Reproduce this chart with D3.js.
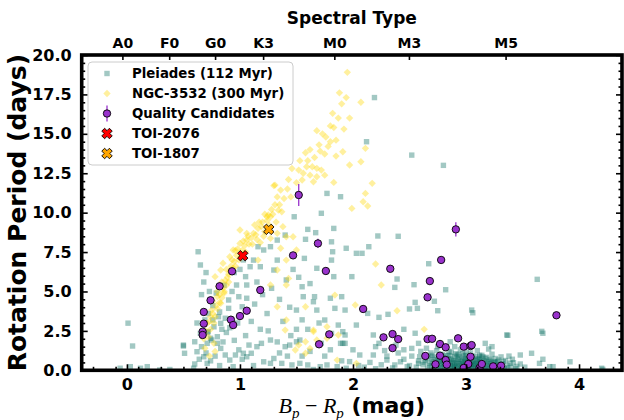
<!DOCTYPE html>
<html>
<head>
<meta charset="utf-8">
<script src="https://cdn.jsdelivr.net/npm/d3@7"></script>
<style>
  body { margin: 0; background: #fff; }
  text { font-family: "DejaVu Sans", sans-serif; font-weight: bold; }
</style>
</head>
<body>
<div id="chart"></div>
<script>
// Pleiades (112 Myr): [Bp-Rp, period]
const pleiades = [
  [0.01,2.99],[-0.06,0.13],[0.03,0.23],[0.12,0.13],[0.18,0.23],[0.29,0.02],[0.38,0.05],[0.05,1.54],[0.5,1.54],[0.51,1.08],
  [0.59,0.13],[0.5,1.6],[0.6,1.81],[0.62,1.18],[0.68,0.86],[0.64,0.7],[0.71,0.44],[0.65,2.35],[0.71,2.39],[0.75,1.92],
  [0.8,1.71],[0.83,1.39],[0.87,0.97],[0.91,0.65],[0.96,0.97],[1.03,1.08],[1.1,1.08],[1.19,1.71],[1.27,1.92],[1.21,0.54],
  [1.27,0.44],[1.37,0.44],[1.46,0.34],[1.44,1.6],[1.53,1.92],[1.53,0.44],[1.6,0.34],[1.65,0.05],[1.71,0.23],[1.77,0.34],
  [1.86,0.23],[1.93,1.71],[1.94,0.13],[0.94,0.23],[1.02,0.7],[1.06,0.86],
  [0.63,7.52],[0.65,6.68],[0.72,2.45],[0.74,2.03],[0.8,2.13],[0.71,1.71],[0.77,2.76],[0.83,2.98],[0.81,3.4],[0.9,3.93],
  [1.02,4.03],[0.9,4.46],[1.06,4.57],[0.99,4.67],[0.97,5.41],[1.06,5.41],[1.05,5.94],[1.12,6.99],[1.09,6.57],[1.18,6.57],
  [1.16,7.84],[1.21,7.63],[1.27,7.84],[1.33,8.26],[1.4,8.58],[1.33,6.99],[1.3,6.36],[1.58,8.31],[1.6,8.94],[1.67,8.73],
  [1.48,9.74],[1.72,9.96],[1.77,11.22],[1.89,11.01],[1.83,9.0],[1.81,8.15],[1.82,7.52],[1.94,7.74],[2.03,7.42],[1.81,6.99],
  [1.83,5.94],[1.99,5.94],[1.68,6.47],[1.41,5.73],[1.55,5.3],[1.56,4.67],[1.66,4.67],[1.8,4.57],[1.9,4.67],[1.84,3.93],
  [1.93,3.82],[1.68,3.82],[1.5,3.82],[1.65,4.35],[1.75,3.19],[1.87,2.87],[1.93,2.24],[2.03,2.87],[1.81,2.34],[1.72,1.71],
  [1.89,1.71],[1.4,1.5],[1.5,1.81],
  [2.19,17.3],[2.12,14.5],[2.52,13.65],[2.8,13.0],[2.22,8.52],[2.4,8.5],[2.14,7.84],[2.08,7.42],[2.67,6.76],[2.39,5.79],
  [2.37,5.26],[2.54,5.43],[2.82,5.11],[3.63,5.77],[2.55,4.31],[2.57,3.93],[2.5,3.89],[2.72,4.38],[2.75,3.78],[3.05,3.82],
  [3.06,3.65],[2.13,3.61],[2.23,3.36],[2.31,3.55],[2.45,2.6],[3.67,2.47],[3.37,2.22],
  [1.91,2.45],[1.91,1.71],[2.06,0.97],[2.18,0.97],[2.18,2.24],[2.23,1.71],[2.3,0.65],[2.37,0.34],[2.42,0.54],[2.48,0.23],
  [2.55,2.35],[2.58,1.71],[2.52,1.39],[2.59,0.86],[2.58,0.44],[2.9,1.5],[2.86,1.81],[3.17,1.71],[3.23,1.5],[3.36,2.24],
  [3.48,0.97],[3.58,1.08],[3.68,2.35],[3.65,0.44],[3.77,0.23],[3.92,0.54],[4.2,0.13],[3.68,0.7],[3.74,0.23],[4.21,0.06],
  [2.62,0.35],[2.64,0.62],[2.66,0.15],[2.67,0.88],[2.68,0.45],[2.69,1.1],[2.7,0.25],[2.71,0.7],[2.72,0.05],[2.73,0.52],
  [2.74,1.25],[2.75,0.32],[2.76,0.8],[2.77,0.12],[2.78,0.6],[2.79,1.02],[2.8,0.4],[2.81,0.22],[2.82,0.92],[2.83,0.55],
  [2.84,0.08],[2.85,0.72],[2.86,0.3],[2.87,1.15],[2.88,0.48],[2.89,0.18],[2.9,0.85],[2.91,0.62],[2.92,0.28],[2.93,1.0],
  [2.94,0.42],[2.95,0.1],[2.96,0.7],[2.97,0.35],[2.98,0.92],[2.99,0.55],[3.0,0.2],[3.01,0.78],[3.02,0.05],[3.03,0.5],
  [3.04,1.1],[3.05,0.3],[3.06,0.65],[3.07,0.15],[3.08,0.88],[3.09,0.42],[3.1,0.25],[3.11,0.72],[3.12,0.55],[3.13,0.1],
  [3.14,0.95],[3.15,0.38],[3.16,0.6],[3.17,0.2],[3.18,0.82],[3.19,0.45],[3.2,0.08],[3.21,0.65],[3.22,0.3],[3.23,1.02],
  [3.24,0.5],[3.25,0.15],[3.26,0.75],[3.27,0.35],[3.28,0.55],[3.3,0.2],[3.31,0.85],[3.32,0.42],[3.34,0.1],[3.35,0.62],
  [3.37,0.3],[3.38,0.9],[3.4,0.18],[3.42,0.48],[3.45,0.25],[2.6,1.2],[2.65,1.4],[2.58,0.6],[2.56,0.2],[2.75,1.5],
  [2.95,1.3],[3.1,1.25],[3.2,1.35],[2.85,1.2],[3.0,1.15],[2.9,0.45],[2.8,0.65],[2.97,0.6],[3.05,0.45],[2.88,0.25],
  [3.15,0.15],[2.78,0.28],[3.08,0.3],[2.83,0.35],[2.93,0.7],[3.0,0.95],[2.7,0.95],[3.12,0.85],[3.25,0.55],[2.86,0.55],
  [3.02,0.28],
  [2.63,0.5],[2.66,0.75],[2.68,0.3],[2.7,0.55],[2.72,0.85],[2.74,0.2],[2.75,0.65],[2.77,0.45],[2.79,0.15],[2.8,0.82],
  [2.81,0.5],[2.83,0.2],[2.84,0.95],[2.85,0.4],[2.87,0.7],[2.88,0.1],[2.89,0.6],[2.9,0.3],[2.91,1.05],[2.92,0.5],
  [2.94,0.25],[2.94,0.85],[2.95,0.55],[2.96,0.15],[2.97,1.05],[2.98,0.3],[2.99,0.75],[3.0,0.45],[3.01,0.1],[3.02,0.65],
  [3.03,0.25],[3.04,0.8],[3.05,0.12],[3.06,0.55],[3.07,0.38],[3.08,0.62],[3.09,0.1],[3.1,0.5],[3.11,0.35],[3.12,0.95],
  [3.13,0.6],[3.14,0.22],[3.16,0.45],[3.17,0.75],[3.18,0.3],[3.19,0.1],[3.21,0.4],[3.22,0.7],[3.24,0.2],[3.26,0.45],
  [3.28,0.1],[3.29,0.65],[3.31,0.35],[3.33,0.55],[3.36,0.15],[3.39,0.45],[3.41,0.7],[3.44,0.1],[3.48,0.4],[3.52,0.2],
  [2.92,0.95],[2.86,0.9],[3.0,0.6],[2.96,0.4],[3.04,0.35],[2.9,0.2],[3.1,0.7],[2.82,0.75],[3.15,0.85],[2.76,0.55],
  [3.2,0.55],[2.99,0.05],[2.93,0.15],[3.06,0.9],
  [2.1,0.2],[2.15,0.5],[2.2,0.1],[2.25,0.35],[2.3,0.9],[2.35,0.15],[2.4,1.1],[2.45,0.7],[2.5,0.3],[2.52,0.9],
  [2.45,1.3],[2.38,1.6],[2.28,1.25],[2.2,1.5],[2.05,0.3],[2.0,1.3],[1.97,0.55],
  [1.12,0.3],[1.3,0.75],[1.35,1.1],[1.55,0.9],[1.62,1.2],[1.75,0.9],[1.8,1.3],[1.9,0.6],[1.15,1.5],[1.25,2.5],
  [1.45,2.2],[1.6,2.6],[1.7,3.0],[1.55,3.2],
  [0.6,0.4],[0.66,1.5],[0.7,1.1],[0.74,0.6],[0.78,0.9],[0.82,0.3],[0.85,1.8],[0.88,2.4],[0.84,2.6],[0.69,3.2],
  [0.72,3.6],[0.76,4.1],[0.79,4.9],[0.86,5.4],[0.93,5.0],[0.95,6.2],[1.0,6.4],[1.03,7.0],[0.66,4.8],
  [0.62,3.0],[0.68,5.6],[0.7,6.2],[0.73,5.0],[0.76,3.2],[0.82,3.7],[0.87,3.3],[0.91,2.7],[0.95,1.9],[0.98,3.0],
  [1.05,2.2],[1.1,3.1],[1.13,4.2],[1.15,5.6],[1.2,4.8],[1.24,3.6],[1.28,5.2],[1.35,4.5],[1.38,3.1],[1.44,4.0],
  [1.47,6.4],[1.52,5.9],[1.57,7.1],[1.62,5.5],[1.18,2.6],[1.08,1.6],[0.99,1.3],[1.42,0.9],[1.5,2.6],[1.33,1.8]
];

// NGC-3532 (300 Myr): [Bp-Rp, period]
const ngc3532 = [
  [2.07,17.0],[2.11,14.08],[2.07,13.23],[2.17,11.86],[2.11,11.22],[2.09,10.69],[2.13,10.42],[2.2,6.74],[2.25,5.41],[2.39,3.78],
  [2.63,2.6],[1.75,13.72],[1.85,13.59],[1.91,13.86],[1.59,12.91],[1.64,12.91],[1.68,12.81],[1.72,12.7],[1.62,12.38],[1.68,12.28],
  [1.75,12.38],[1.55,12.07],[1.65,11.96],[1.83,11.92],[1.97,13.02],[1.99,10.27],[1.3,11.71],[1.36,11.43],[1.34,10.16],[1.37,10.06],
  [1.25,9.85],[1.27,9.74],[1.19,9.11],[1.12,8.69],[1.06,8.26],[1.0,8.05],[0.94,7.63],[0.91,7.2],[0.85,6.79],[0.83,6.36],
  [0.78,5.94],[0.81,5.3],[0.8,4.67],[0.83,4.25],[0.75,3.82],[0.74,3.4],[0.71,2.98],[0.77,1.71],[0.72,2.13],[1.0,8.9],
  [1.06,8.69],[1.13,9.22],[1.31,11.75],[1.24,9.74],[1.38,9.11],[1.33,8.69],[1.27,8.37],[1.41,8.47],[1.47,8.47],[1.5,7.63],
  [1.36,7.74],[1.41,6.99],[1.16,6.99],[1.33,6.36],[1.27,5.41],[1.41,5.41],[1.43,5.83],[1.33,4.03],[1.58,4.03],[1.84,4.77],
  [2.02,4.14],[1.41,3.19],[1.4,2.55],[1.65,2.45],[1.58,1.81],[1.87,2.24],[1.77,2.76],
  [1.49,1.29],[1.58,1.08],[1.52,1.6],[1.65,2.55],[1.68,1.92],[1.77,2.03],[1.62,1.39],[1.86,0.65],[2.03,0.44],
  [1.95,18.9],[1.88,17.6],[1.9,16.9],[1.82,16.3],[1.97,16.0],[1.8,15.5],[1.92,15.3],[1.73,15.0],[1.85,14.6],[1.7,14.3],
  [1.62,14.0],[1.78,14.2],[1.53,13.3],[1.46,12.8],[1.43,12.1],
  [0.7,2.5],[0.73,3.1],[0.76,3.6],[0.79,4.1],[0.82,4.8],[0.85,5.2],[0.87,5.7],[0.9,6.1],[0.92,6.6],[0.95,6.9],
  [0.97,7.3],[0.99,7.0],[1.02,7.6],[1.04,7.9],[1.08,8.0],[1.1,8.4],[1.14,8.6],[1.16,9.0],[1.2,9.4],[1.22,8.8],
  [1.26,9.2],[1.28,10.2],[1.31,10.5],[1.33,11.0],[0.88,6.4],[0.84,5.6],[0.8,5.0],[0.76,4.4],[0.93,7.0],[0.96,7.6],
  [1.03,8.2],[1.18,8.1],[1.22,9.9],[0.86,4.9],[0.9,5.6],[0.68,2.0],[0.69,1.4],[0.73,0.9],[0.78,1.2],
  [0.74,2.6],[0.77,3.0],[0.78,3.4],[0.8,3.9],[0.82,4.3],[0.84,4.6],[0.86,5.0],[0.88,5.4],[0.89,5.9],[0.91,6.3],
  [0.94,6.5],[0.96,6.6],[0.98,7.7],[1.01,7.2],[1.05,7.5],[1.07,8.5],[1.11,8.0],[1.15,8.3],[1.17,9.4],[1.21,8.5],
  [1.24,9.5],[1.29,9.9],[1.32,9.4],[1.35,10.5],[1.39,10.9],[1.42,11.5],[1.45,11.0],[1.5,11.9],[1.56,12.5],[1.6,13.3],
  [1.66,13.5],[1.71,13.9],[1.76,14.8],[1.8,14.5],[1.83,15.4],[1.87,16.0],[1.94,17.3],[1.68,15.2],[1.58,13.8],[1.52,12.7]
];

// quality candidates: [Bp-Rp, period, period error]
const candidates = [
  [1.52,11.12,0.7],[1.69,8.05,0.3],[1.47,7.29,0.15],[1.76,6.30,0.1],[0.93,6.28,0.1],[0.82,5.33,0.1],[0.74,4.44,0.1],
  [1.18,5.09,0.1],[0.68,3.70,0.1],[1.06,3.78,0.1],[1.0,3.44,0.1],[0.92,3.21,0.1],[0.94,2.87,0.1],[0.68,2.96,0.1],
  [0.67,2.45,0.1],[0.67,2.24,0.1],[2.09,3.89,0.1],[1.79,2.28,0.1],[1.70,1.65,0.1],[2.91,8.94,0.45],[2.78,7.0,0.2],
  [2.33,6.44,0.1],[2.68,5.66,0.1],[2.66,4.63,0.1],[3.80,3.49,0.1],[2.27,2.09,0.05],[2.35,2.30,0.05],[2.40,1.98,0.05],
  [2.35,1.41,0.05],[2.66,1.98,0.05],[2.70,2.0,0.05],[2.77,1.67,0.05],[2.82,1.46,0.05],[2.93,2.03,0.05],[2.98,1.50,0.05],
  [3.04,1.54,0.05],[3.05,1.6,0.05],[2.64,0.91,0.05],[2.77,0.93,0.05],[2.82,0.65,0.05],[2.83,0.36,0.05],[2.73,0.38,0.05],
  [3.04,0.86,0.05],[3.02,0.40,0.05],[2.98,0.15,0.05],[3.12,0.15,0.05],[3.14,0.40,0.05],[3.24,0.25,0.05],[3.31,0.29,0.05]
];

const toiStars = [
  { name: "TOI-2076", bprp: 1.025, period: 7.27, color: "#ff0000" },
  { name: "TOI-1807", bprp: 1.255, period: 8.94, color: "#ffa500" }
];

const spectralTypes = ["A0", "F0", "G0", "K3", "M0", "M3", "M5"];
const spectralColors = [-0.04, 0.374, 0.78, 1.205, 1.835, 2.495, 3.35];

const xTicks = [0, 1, 2, 3, 4];
const yTicks = [0, 2.5, 5, 7.5, 10, 12.5, 15, 17.5, 20];

const width = 624, height = 420;
const margin = { top: 55, right: 2, bottom: 49.7, left: 81.7 };

const pleiadesColor = "#0a6e62";
const ngcColor = "#ffd700";
const candColor = "#9932cc";

const svg = d3.select("#chart").append("svg")
  .attr("width", width)
  .attr("height", height);

const x = d3.scaleLinear().domain([-0.4, 4.38]).range([margin.left, width - margin.right]);
const y = d3.scaleLinear().domain([0, 20]).range([height - margin.bottom, margin.top]);

const clipId = "plot-clip";
svg.append("clipPath").attr("id", clipId)
  .append("rect")
  .attr("x", margin.left).attr("y", margin.top)
  .attr("width", x.range()[1] - margin.left)
  .attr("height", y.range()[0] - margin.top);

const plot = svg.append("g").attr("clip-path", `url(#${clipId})`);

// filled "X" marker like matplotlib's
function xMarker(L, W) {
  const pts = [[W,L],[W,W],[L,W],[L,-W],[W,-W],[W,-L],[-W,-L],[-W,-W],[-L,-W],[-L,W],[-W,W],[-W,L]];
  const c = Math.SQRT1_2;
  return "M" + pts.map(([a, b]) => [(a - b) * c, (a + b) * c].map((v) => v.toFixed(2)).join(",")).join("L") + "Z";
}

const sq = 5.4;
plot.append("g").selectAll("rect")
  .data(pleiades)
  .join("rect")
  .attr("x", (d) => x(d[0]) - sq / 2)
  .attr("y", (d) => y(d[1]) - sq / 2)
  .attr("width", sq)
  .attr("height", sq)
  .attr("fill", pleiadesColor)
  .attr("fill-opacity", 0.38);

const diamond = d3.symbol().type(d3.symbolSquare).size(27);
plot.append("g").selectAll("path")
  .data(ngc3532)
  .join("path")
  .attr("d", diamond)
  .attr("transform", (d) => `translate(${x(d[0])},${y(d[1])}) rotate(45)`)
  .attr("fill", ngcColor)
  .attr("fill-opacity", 0.38);

const cand = plot.append("g");
cand.selectAll("line")
  .data(candidates)
  .join("line")
  .attr("x1", (d) => x(d[0]))
  .attr("x2", (d) => x(d[0]))
  .attr("y1", (d) => y(d[1] - d[2]))
  .attr("y2", (d) => y(d[1] + d[2]))
  .attr("stroke", candColor)
  .attr("stroke-width", 1.3);
cand.selectAll("circle")
  .data(candidates)
  .join("circle")
  .attr("cx", (d) => x(d[0]))
  .attr("cy", (d) => y(d[1]))
  .attr("r", 3.7)
  .attr("fill", candColor)
  .attr("stroke", "#000")
  .attr("stroke-width", 0.9);

plot.append("g").selectAll("path")
  .data(toiStars)
  .join("path")
  .attr("d", xMarker(5.4, 2))
  .attr("transform", (d) => `translate(${x(d.bprp)},${y(d.period)})`)
  .attr("fill", (d) => d.color)
  .attr("stroke", "#000")
  .attr("stroke-width", 0.9);

// axes, ticks pointing inside
const x0 = margin.left, x1 = x.range()[1], y0 = y.range()[0], y1 = margin.top;

function styleAxis(g) {
  g.select(".domain").remove();
  g.selectAll(".tick line").attr("stroke", "#000").attr("stroke-width", 1.6);
  g.selectAll(".tick text").attr("fill", "#000").style("font-size", "16px").style("font-weight", "bold");
}

const xMinor = d3.range(-3, 44, 2).map((v) => v / 10).filter((v) => Math.abs(v - Math.round(v)) > 1e-6);
const yMinor = d3.range(0, 201, 5).map((v) => v / 10).filter((v) => Math.abs(v / 2.5 - Math.round(v / 2.5)) > 1e-6);

svg.append("g")
  .attr("transform", `translate(0,${y0})`)
  .call(d3.axisBottom(x).tickValues(xTicks).tickFormat(d3.format("d")).tickSize(-6).tickPadding(8))
  .call(styleAxis);
svg.append("g")
  .attr("transform", `translate(0,${y0})`)
  .call(d3.axisBottom(x).tickValues(xMinor).tickFormat("").tickSize(-3.5))
  .call(styleAxis);

svg.append("g")
  .attr("transform", `translate(${x0},0)`)
  .call(d3.axisLeft(y).tickValues(yTicks).tickFormat(d3.format(".1f")).tickSize(-6).tickPadding(10))
  .call(styleAxis);
svg.append("g")
  .attr("transform", `translate(${x0},0)`)
  .call(d3.axisLeft(y).tickValues(yMinor).tickFormat("").tickSize(-3.5))
  .call(styleAxis);

svg.append("g")
  .attr("transform", `translate(${x1},0)`)
  .call(d3.axisRight(y).tickValues(yTicks).tickFormat("").tickSize(-6))
  .call(styleAxis);
svg.append("g")
  .attr("transform", `translate(${x1},0)`)
  .call(d3.axisRight(y).tickValues(yMinor).tickFormat("").tickSize(-3.5))
  .call(styleAxis);

// spectral type axis on top
svg.append("g")
  .attr("transform", `translate(0,${y1})`)
  .call(d3.axisTop(x).tickValues(spectralColors).tickFormat((d, i) => spectralTypes[i]).tickSize(-5).tickPadding(7))
  .call(styleAxis)
  .selectAll(".tick text").style("font-size", "14px");

svg.append("rect")
  .attr("x", x0).attr("y", y1)
  .attr("width", x1 - x0).attr("height", y0 - y1)
  .attr("fill", "none")
  .attr("stroke", "#000")
  .attr("stroke-width", 3.6);

// titles
svg.append("text")
  .attr("x", (x0 + x1) / 2)
  .attr("y", 24)
  .attr("text-anchor", "middle")
  .style("font-size", "17px")
  .text("Spectral Type");

svg.append("text")
  .attr("transform", `translate(26,${(y0 + y1) / 2}) rotate(-90)`)
  .attr("text-anchor", "middle")
  .style("font-size", "25px")
  .text("Rotation Period (days)");

const xl = svg.append("text")
  .attr("x", (x0 + x1) / 2)
  .attr("y", 413)
  .attr("text-anchor", "middle")
  .style("font-size", "22px");
const mathStyle = (t) => t.style("font-family", "'Liberation Serif', serif").style("font-style", "italic").style("font-weight", "normal");
xl.append("tspan").call(mathStyle).text("B");
xl.append("tspan").call(mathStyle).attr("dy", 5).style("font-size", "15px").text("p");
xl.append("tspan").call(mathStyle).attr("dy", -5).style("font-style", "normal").text(" \u2212 ");
xl.append("tspan").call(mathStyle).text("R");
xl.append("tspan").call(mathStyle).attr("dy", 5).style("font-size", "15px").text("p");
xl.append("tspan").attr("dy", -5).text(" (mag)");

// legend
const legend = svg.append("g");
legend.append("rect")
  .attr("x", 88).attr("y", 62)
  .attr("width", 205).attr("height", 103)
  .attr("rx", 4)
  .attr("fill", "#fff").attr("fill-opacity", 0.8)
  .attr("stroke", "#cccccc").attr("stroke-width", 1);

const legendItems = ["Pleiades (112 Myr)", "NGC-3532 (300 Myr)", "Quality Candidates", "TOI-2076", "TOI-1807"];
const lx = 107, tx = 132;
const ly = (i) => 73.5 + i * 20;

legend.append("rect")
  .attr("x", lx - sq / 2).attr("y", ly(0) - sq / 2)
  .attr("width", sq).attr("height", sq)
  .attr("fill", pleiadesColor).attr("fill-opacity", 0.38);
legend.append("path")
  .attr("d", diamond)
  .attr("transform", `translate(${lx},${ly(1)}) rotate(45)`)
  .attr("fill", ngcColor).attr("fill-opacity", 0.38);
legend.append("line")
  .attr("x1", lx).attr("x2", lx)
  .attr("y1", ly(2) - 8).attr("y2", ly(2) + 8)
  .attr("stroke", candColor).attr("stroke-width", 1.3);
legend.append("circle")
  .attr("cx", lx).attr("cy", ly(2)).attr("r", 3.7)
  .attr("fill", candColor).attr("stroke", "#000").attr("stroke-width", 0.9);
toiStars.forEach((t, i) => {
  legend.append("path")
    .attr("d", xMarker(5.4, 2))
    .attr("transform", `translate(${lx},${ly(3 + i)})`)
    .attr("fill", t.color).attr("stroke", "#000").attr("stroke-width", 0.9);
});

legend.selectAll("text.label")
  .data(legendItems)
  .join("text")
  .attr("class", "label")
  .attr("x", tx)
  .attr("y", (d, i) => ly(i))
  .attr("dy", "0.36em")
  .style("font-size", "13.3px")
  .text((d) => d);
</script>
</body>
</html>
